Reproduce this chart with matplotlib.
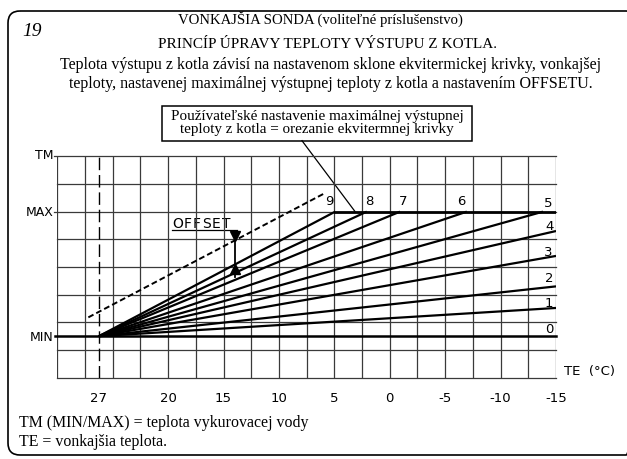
import numpy as np
import matplotlib
matplotlib.use("Agg")
import matplotlib.pyplot as plt
from matplotlib.patches import FancyBboxPatch, Rectangle

# ---------------- data ----------------
te_tick_pos = [1.5, 4, 6, 8, 10, 12, 14, 16, 18]
te_tick_labels = ["27", "20", "15", "10", "5", "0", "-5", "-10", "-15"]
tm_levels = {"TM": 8, "MAX": 6, "MIN": 1.5}

origin = (1.5, 1.5)                      # 27 °C, MIN
curve_ids = ["1", "2", "3", "4", "5", "6", "7", "8", "9"]
curve_end_x = [18, 18, 18, 18, 17.53, 14.78, 12.37, 11.17, 10.03]
curve_end_y = [2.52, 3.30, 4.40, 5.30, 6, 6, 6, 6, 6]
label_x = [17.75, 17.75, 17.72, 17.75, 17.72, 14.57, 12.48, 11.25, 9.80]
label_y = [2.72, 3.63, 4.55, 5.50, 6.32, 6.4, 6.4, 6.4, 6.4]
offset_line_x = [1.12, 9.66]
offset_line_y = [2.18, 6.67]
offset_arrow_x = 6.415

W, H = 627, 460
fig = plt.figure(figsize=(W / 100, H / 100), dpi=100)

# overlay axes in pixel coordinates
bg = fig.add_axes([0, 0, 1, 1])
bg.set_xlim(0, W)
bg.set_ylim(H, 0)
bg.axis("off")

serif = "Liberation Serif"
tech = "DejaVu Sans"

bg.add_patch(FancyBboxPatch((8, 12), 630, 444,
                            boxstyle="round,pad=0,rounding_size=12",
                            fc="none", ec="black", lw=1.2))
bg.text(22, 32, "19", family=serif, style="italic", fontsize=14, va="center", ha="left")
bg.text(320, 19, "VONKAJŠIA SONDA (voliteľné príslušenstvo)", family=serif,
        fontsize=10.6, ha="center", va="center")
bg.text(327, 45, "PRINCÍP ÚPRAVY TEPLOTY VÝSTUPU Z KOTLA.", family=serif,
        fontsize=11, ha="center", va="center")
bg.text(331, 65, "Teplota výstupu z kotla závisí na nastavenom sklone ekvitermickej krivky, vonkajšej",
        family=serif, fontsize=11.5, ha="center", va="center")
bg.text(331, 84, "teploty, nastavenej maximálnej výstupnej teploty z kotla a nastavením OFFSETU.",
        family=serif, fontsize=11.5, ha="center", va="center")

# annotation box
bg.add_patch(Rectangle((161.7, 106.7), 310.3, 35, fc="white", ec="black", lw=1.1))
bg.text(317, 116.5, "Používateľské nastavenie maximálnej výstupnej", family=serif,
        fontsize=10.9, ha="center", va="center")
bg.text(317, 130, "teploty z kotla = orezanie ekvitermnej krivky", family=serif,
        fontsize=10.9, ha="center", va="center")
bg.plot([302, 355], [141.7, 212.5], color="black", lw=0.9)

bg.text(19, 423, "TM (MIN/MAX) = teplota vykurovacej vody", family=serif,
        fontsize=11.4, ha="left", va="center")
bg.text(19, 442, "TE = vonkajšia teplota.", family=serif,
        fontsize=11.4, ha="left", va="center")

# OFFSET label
offset_word = "OFFSET"
for i, ch in enumerate(offset_word):
    bg.text(177.5 + i * 9.7, 224, ch, family=tech, fontsize=10, ha="center", va="center")
bg.plot([172, 237], [231, 231], color="black", lw=0.9)

# ---------------- main diagram axes ----------------
left, right, top, bottom = 57.3, 556, 157.3, 378.7
ax = fig.add_axes([left / W, 1 - bottom / H, (right - left) / W, (bottom - top) / H])
ax.set_xlim(0, 18)
ax.set_ylim(0, 8)
ax.axis("off")
ax.patch.set_alpha(0)

grid_col = "#3a3a3a"
for gx in range(0, 19):
    ax.plot([gx, gx], [0, 8], color=grid_col, lw=0.9, zorder=1)
for gy in [0, 1, 2, 3, 4, 5, 6, 7, 8]:
    x0 = -0.12 if gy in (8, 6) else 0
    ax.plot([x0, 18], [gy, gy], color=grid_col, lw=0.9, zorder=1, clip_on=False)

# MIN line (curve 0)
ax.plot([-0.1, 18], [tm_levels["MIN"]] * 2, color="black", lw=1.8, zorder=3, clip_on=False)
ax.text(17.75, 1.78, "0", family=tech, fontsize=9.5, ha="center", va="center")

# dashed 27 °C line
ax.plot([1.5, 1.5], [0, 8], color="black", lw=1.0, ls=(0, (9, 3.5)), zorder=2)

# heating curves, clipped at MAX
clip_x = []
for cid, ex, ey, lx, ly in zip(curve_ids, curve_end_x, curve_end_y, label_x, label_y):
    ax.plot([origin[0], ex], [origin[1], ey], color="black", lw=1.6, zorder=3,
            solid_capstyle="butt")
    if ey >= tm_levels["MAX"]:
        clip_x.append(ex)
    ax.text(lx, ly, cid, family=tech, fontsize=9.5, ha="center", va="center")
ax.plot([min(clip_x), 18], [tm_levels["MAX"]] * 2, color="black", lw=2.0, zorder=3)

# offset dashed curve
ax.plot(offset_line_x, offset_line_y, color="black", lw=1.4, ls=(0, (3, 1.6)), zorder=3)

# offset arrows
y_dash = np.interp(offset_arrow_x, offset_line_x, offset_line_y)
c9x = [origin[0], curve_end_x[-1]]
c9y = [origin[1], curve_end_y[-1]]
y_c9 = np.interp(offset_arrow_x, c9x, c9y)
ax.plot([offset_arrow_x] * 2, [y_dash, y_c9 - 0.45], color="black", lw=1.3, zorder=4)
ax.plot(offset_arrow_x, y_dash + 0.15, marker="v", ms=6.5, color="black", zorder=5)
ax.plot(offset_arrow_x, y_c9 - 0.17, marker="^", ms=6.5, color="black", zorder=5)

# axis labels
for name, lvl in tm_levels.items():
    ax.text(-0.15, lvl + (0.08 if name == "TM" else 0), name, family=tech, fontsize=9,
            ha="right", va="center")
for pos, lab in zip(te_tick_pos, te_tick_labels):
    ax.text(pos, -0.7, lab, family=tech, fontsize=9.5, ha="center", va="center")
ax.text(18.3, 0.25, "TE  (°C)", family=tech, fontsize=9.5, ha="left", va="center")

fig.savefig("out.png", dpi=100)
